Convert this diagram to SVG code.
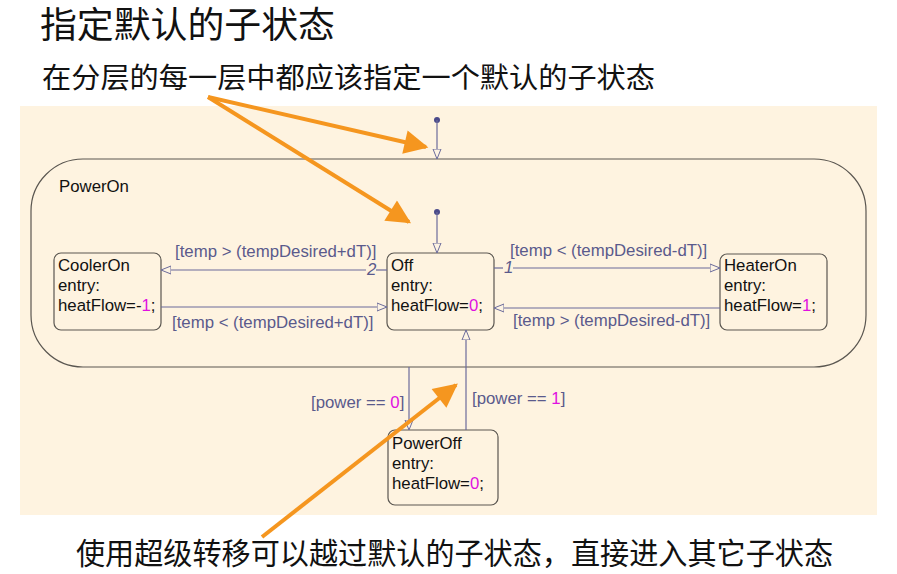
<svg xmlns="http://www.w3.org/2000/svg" width="897" height="574" viewBox="0 0 897 574">
<defs>
<marker id="open" viewBox="0 0 10 10" refX="10" refY="5" markerWidth="10" markerHeight="10" markerUnits="userSpaceOnUse" orient="auto">
<path d="M0,1 L10,5 L0,9 Z" fill="#fdf3e3" stroke="#6b6b9a" stroke-width="1"/>
</marker>
<marker id="big" viewBox="0 0 10 10" refX="9" refY="5" markerWidth="28" markerHeight="24" markerUnits="userSpaceOnUse" orient="auto">
<path d="M0,0 L10,5 L0,10 Z" fill="#f5961f"/>
</marker>
<style>
.cjk{font-family:"Liberation Serif","Noto Sans CJK SC",serif;fill:#111}
.st{fill:#fdfbf7;fill-opacity:0;stroke:#5a5650;stroke-width:1.2}
.tx{font-family:"Liberation Sans",Arial,sans-serif;font-size:16.8px;fill:#111}
.lb{font-family:"Liberation Sans",Arial,sans-serif;font-size:16.8px;fill:#5a5a8c}
.num{fill:#e010e0}
.cn{stroke:#6b6b9a;stroke-width:1.2;fill:none}
.or{stroke:#f5961f;stroke-width:4;fill:none}
</style>
</defs>
<rect width="897" height="574" fill="#ffffff"/>
<rect x="20" y="106" width="857" height="409" fill="#fef3e0"/>
<text class="cjk" x="40" y="38" font-size="36" textLength="295" lengthAdjust="spacingAndGlyphs">指定默认的子状态</text>
<text class="cjk" x="42" y="88" font-size="28" textLength="613" lengthAdjust="spacingAndGlyphs">在分层的每一层中都应该指定一个默认的子状态</text>
<text class="cjk" x="76" y="564" font-size="30" textLength="757" lengthAdjust="spacingAndGlyphs">使用超级转移可以越过默认的子状态，直接进入其它子状态</text>
<g id="PowerOn">
<rect class="st" x="31" y="159" width="835" height="208" rx="52" ry="52"/>
<text class="tx" x="59" y="192" font-size="15">PowerOn</text>
</g>
<g id="CoolerOn">
<rect class="st" x="54" y="253" width="107" height="77" rx="7"/>
<text class="tx" x="58" y="271">CoolerOn</text>
<text class="tx" x="58" y="291">entry:</text>
<text class="tx" x="58" y="311">heatFlow=-<tspan class="num">1</tspan>;</text>
</g>
<g id="Off">
<rect class="st" x="387" y="253" width="107" height="77" rx="7"/>
<text class="tx" x="391" y="271">Off</text>
<text class="tx" x="391" y="291">entry:</text>
<text class="tx" x="391" y="311">heatFlow=<tspan class="num">0</tspan>;</text>
</g>
<g id="HeaterOn">
<rect class="st" x="720" y="254" width="107" height="76" rx="7"/>
<text class="tx" x="724" y="271">HeaterOn</text>
<text class="tx" x="724" y="291">entry:</text>
<text class="tx" x="724" y="311">heatFlow=<tspan class="num">1</tspan>;</text>
</g>
<g id="PowerOff">
<rect class="st" x="388" y="430" width="110" height="75" rx="7"/>
<text class="tx" x="392" y="449">PowerOff</text>
<text class="tx" x="392" y="469">entry:</text>
<text class="tx" x="392" y="489">heatFlow=<tspan class="num">0</tspan>;</text>
</g>
<g id="connectors">
<circle cx="437" cy="120" r="3" fill="#4a4a8a"/>
<line class="cn" x1="437" y1="120" x2="437" y2="159" marker-end="url(#open)"/>
<circle cx="437" cy="212" r="3" fill="#4a4a8a"/>
<line class="cn" x1="437" y1="212" x2="437" y2="253" marker-end="url(#open)"/>
<line class="cn" x1="387" y1="270" x2="376" y2="270"/>
<line class="cn" x1="366" y1="270" x2="161" y2="270" marker-end="url(#open)"/>
<text class="lb" x="367" y="275" font-size="13" font-style="italic">2</text>
<line class="cn" x1="161" y1="307" x2="387" y2="307" marker-end="url(#open)"/>
<line class="cn" x1="494" y1="268" x2="503" y2="268"/>
<line class="cn" x1="513" y1="268" x2="720" y2="268" marker-end="url(#open)"/>
<text class="lb" x="504" y="273" font-size="13" font-style="italic">1</text>
<line class="cn" x1="720" y1="308" x2="494" y2="308" marker-end="url(#open)"/>
<line class="cn" x1="409" y1="367" x2="409" y2="430" marker-end="url(#open)"/>
<line class="cn" x1="466" y1="430" x2="466" y2="330" marker-end="url(#open)"/>
<text class="lb" x="175" y="257">[temp &gt; (tempDesired+dT)]</text>
<text class="lb" x="172" y="328">[temp &lt; (tempDesired+dT)]</text>
<text class="lb" x="510" y="256">[temp &lt; (tempDesired-dT)]</text>
<text class="lb" x="513" y="326">[temp &gt; (tempDesired-dT)]</text>
<text class="lb" x="311" y="408">[power == <tspan class="num">0</tspan>]</text>
<text class="lb" x="472" y="404">[power == <tspan class="num">1</tspan>]</text>
<line class="or" x1="208" y1="97" x2="426" y2="147" marker-end="url(#big)"/>
<line class="or" x1="208" y1="97" x2="409" y2="222" marker-end="url(#big)"/>
<line class="or" x1="262" y1="537" x2="456" y2="385" marker-end="url(#big)"/>
</g>
</svg>
